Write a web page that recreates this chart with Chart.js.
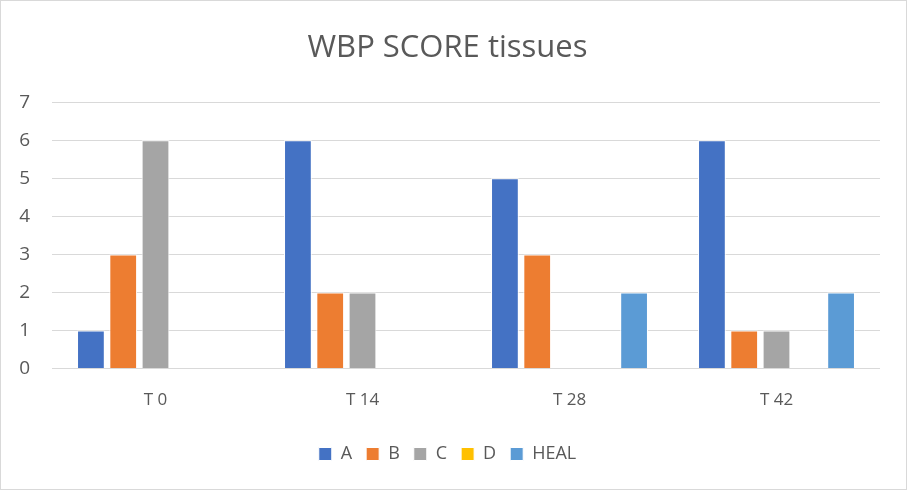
<!DOCTYPE html>
<html>
<head>
<meta charset="utf-8">
<script src="https://cdn.jsdelivr.net/npm/chart.js@4/dist/chart.umd.min.js"></script>
<style>
  html, body { margin: 0; padding: 0; background: #fff; }
  #wrap { position: relative; width: 905px; height: 488px; border: 1px solid #d9d9d9; }
</style>
</head>
<body>
<div id="wrap"><canvas id="chart"></canvas></div>
<script>
// Chart data
const categories = ['T 0', 'T 14', 'T 28', 'T 42'];
const seriesA = [1, 6, 5, 6];
const seriesB = [3, 2, 3, 1];
const seriesC = [6, 2, 0, 1];
const seriesD = [0, 0, 0, 0];
const seriesHeal = [0, 0, 2, 2];

const textColor = '#595959';
const fontFamily = "'Open Sans', 'Noto Sans', sans-serif";

const makeSet = (label, data, color) => ({
  label,
  data,
  backgroundColor: color,
  borderColor: '#ffffff',
  borderWidth: 1,
  barPercentage: 0.86,
  categoryPercentage: 0.78,
});

const ctx = document.getElementById('chart');
new Chart(ctx, {
  type: 'bar',
  data: {
    labels: categories,
    datasets: [
      makeSet('A', seriesA, '#4472C4'),
      makeSet('B', seriesB, '#ED7D31'),
      makeSet('C', seriesC, '#A5A5A5'),
      makeSet('D', seriesD, '#FFC000'),
      makeSet('HEAL', seriesHeal, '#5B9BD5'),
    ],
  },
  options: {
    responsive: true,
    maintainAspectRatio: false,
    animation: false,
    layout: {
      padding: { left: 14, right: 26, top: 18, bottom: 16 },
    },
    scales: {
      y: {
        min: 0,
        max: 7,
        afterFit: (scale) => { scale.width = 37; },
        ticks: {
          stepSize: 1,
          color: textColor,
          font: { family: fontFamily, size: 19 },
          padding: 22,
        },
        grid: { color: '#d9d9d9', lineWidth: 1, drawTicks: false },
        border: { display: false },
      },
      x: {
        ticks: {
          color: textColor,
          font: { family: fontFamily, size: 17 },
          padding: 21,
        },
        grid: { display: false, drawTicks: false },
        border: { display: false },
      },
    },
    plugins: {
      title: {
        display: true,
        text: 'WBP SCORE tissues',
        color: textColor,
        font: { family: fontFamily, size: 31, weight: 'normal' },
        padding: { top: 11, bottom: 35 },
      },
      legend: {
        position: 'bottom',
        labels: {
          color: textColor,
          font: { family: fontFamily, size: 18 },
          boxWidth: 13,
          boxHeight: 13,
          padding: 14,
        },
      },
      tooltip: { enabled: false },
    },
  },
});
</script>
</body>
</html>
